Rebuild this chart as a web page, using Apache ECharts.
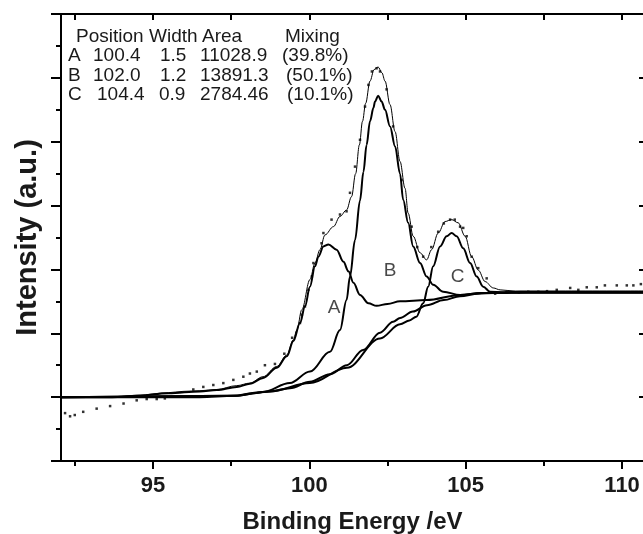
<!DOCTYPE html>
<html>
<head>
<meta charset="utf-8">
<script src="https://cdn.jsdelivr.net/npm/echarts@6/dist/echarts.min.js"></script>
<style>
html, body {margin: 0; padding: 0; background: #fff;}
#main {width: 643px; height: 534px;}
</style>
</head>
<body>
<div id="main"></div>
<script>
// x range and ticks (binding energy, eV)
var xMin = 92.06, xMax = 110.70;
var xMajor = [95, 100, 105, 110];
var xMinor = [92.5, 97.5, 102.5, 107.5];
var xAll = [92.5, 95, 97.5, 100, 102.5, 105, 107.5, 110];

// measured points (dots)
var measured = [[92.19,0.75],[92.35,0.70],[92.5,0.72],[92.77,0.77],[93.2,0.82],[93.63,0.86],[94.06,0.90],[94.48,0.95],
    [94.8,0.97],[95.12,0.97],[95.38,0.98],[96.29,1.12],[96.61,1.16],[96.93,1.19],[97.25,1.22],[97.57,1.27],[97.89,1.32],
    [98.1,1.37],[98.32,1.40],[98.58,1.50],[98.9,1.52],[99.2,1.68],[99.45,1.93],[99.7,2.16],[99.76,2.29],[99.86,2.42],
    [99.97,2.68],[100.08,2.89],[100.13,3.10],[100.39,3.41],[100.45,3.57],[100.71,3.78],[100.98,3.86],[101.19,3.91],
    [101.3,4.20],[101.46,4.61],[101.62,5.03],[101.78,5.55],[101.89,5.89],[102.0,6.10],[102.15,6.15],[102.26,6.10],
    [102.47,5.82],[102.68,5.24],[102.95,4.40],[103.27,3.67],[103.45,3.35],[103.64,3.20],[103.9,3.35],[104.12,3.59],
    [104.3,3.72],[104.5,3.78],[104.65,3.78],[104.82,3.67],[104.92,3.65],[105.03,3.52],[105.19,3.20],[105.4,3.02],
    [105.67,2.86],[105.94,2.62],[106.3,2.64],[106.7,2.64],[107.0,2.65],[107.32,2.65],[107.6,2.66],[107.91,2.68],
    [108.34,2.71],[108.6,2.68],[108.87,2.72],[109.19,2.72],[109.45,2.75],[109.83,2.75],[110.15,2.75],[110.36,2.75],[110.6,2.77]];

// fitted envelope
var envelope = [[92.06,1.00],[93.7,1.00],[94.5,1.03],[95.5,1.07],[95.96,1.09],[96.5,1.10],[97.04,1.12],[97.68,1.18],
    [98.1,1.22],[98.52,1.32],[98.96,1.48],[99.28,1.66],[99.49,1.90],[99.6,2.05],[99.76,2.37],[100.02,2.84],[100.18,3.10],
    [100.34,3.31],[100.5,3.54],[100.77,3.67],[100.98,3.83],[101.19,3.93],[101.35,4.14],[101.48,4.50],[101.6,4.95],
    [101.7,5.32],[101.8,5.60],[101.94,5.95],[102.07,6.13],[102.2,6.17],[102.32,6.08],[102.42,5.95],[102.58,5.58],
    [102.74,5.16],[102.9,4.69],[103.06,4.27],[103.16,3.88],[103.32,3.52],[103.54,3.26],[103.75,3.15],[103.91,3.31],
    [104.12,3.57],[104.34,3.75],[104.55,3.78],[104.76,3.73],[104.98,3.52],[105.19,3.20],[105.4,2.99],[105.62,2.81],
    [105.88,2.71],[106.1,2.68],[106.6,2.66],[108,2.66],[110.7,2.66]];

// peak A + background
var peakA = [[92.06,1.00],[93.7,1.00],[94.5,1.02],[95.5,1.06],[96.5,1.09],[97.04,1.11],[97.68,1.16],[98.1,1.21],
    [98.52,1.30],[98.96,1.46],[99.28,1.64],[99.49,1.88],[99.7,2.16],[99.86,2.42],[100.02,2.73],[100.18,3.05],
    [100.29,3.20],[100.45,3.36],[100.61,3.39],[100.87,3.31],[101.09,3.12],[101.25,2.97],[101.41,2.79],[101.62,2.60],
    [101.89,2.47],[102.15,2.43],[102.5,2.46],[102.9,2.50],[103.75,2.52],[104.82,2.60],[105.5,2.63],[106.74,2.65],[110.7,2.65]];

// peak B + background
var peakB = [[92.06,1.00],[97.6,1.02],[98.5,1.08],[99.38,1.22],[100.02,1.40],[100.66,1.71],[100.98,2.05],[101.19,2.52],
    [101.3,2.89],[101.46,3.46],[101.62,4.08],[101.73,4.53],[101.83,4.95],[101.94,5.32],[102.05,5.53],[102.1,5.63],
    [102.2,5.72],[102.31,5.63],[102.42,5.50],[102.58,5.24],[102.74,4.93],[102.9,4.50],[103.0,4.09],[103.16,3.73],
    [103.32,3.36],[103.54,3.10],[103.75,2.89],[103.96,2.76],[104.28,2.65],[104.82,2.60],[105.5,2.63],[106.5,2.64],[110.7,2.64]];

// peak C + background
var peakC = [[92.06,1.00],[97.6,1.02],[98.74,1.09],[100.02,1.22],[101.2,1.46],[102.26,1.92],[102.9,2.14],[103.2,2.20],
    [103.42,2.26],[103.64,2.47],[103.8,2.73],[103.96,3.05],[104.18,3.36],[104.39,3.52],[104.55,3.57],[104.71,3.52],
    [104.92,3.33],[105.14,3.10],[105.35,2.89],[105.56,2.73],[105.78,2.65],[106.2,2.64],[110.7,2.64]];

// background
var background = [[92.06,1.00],[95.0,1.00],[96.5,1.00],[97.6,1.02],[98.2,1.06],[98.74,1.09],[99.38,1.14],[100.02,1.24],
    [100.66,1.36],[101.2,1.50],[101.72,1.74],[102.26,2.01],[102.68,2.18],[102.9,2.24],[103.31,2.34],[103.76,2.44],
    [104.3,2.52],[104.82,2.58],[105.4,2.62],[105.9,2.63],[107,2.64],[108.5,2.64],[110.7,2.64]];

// peak letters and where they sit
var peakNames = ['A', 'B', 'C'];
var peakLabelAt = [[100.79, 2.40], [102.58, 2.98], [104.74, 2.88]];

// fit table
var tableHead = ['Position', 'Width', 'Area', 'Mixing'];
var tableRows = [
    ['A', '100.4', '1.5', '11028.9', '(39.8%)'],
    ['B', '102.0', '1.2', '13891.3', '(50.1%)'],
    ['C', '104.4', '0.9', '2784.46', '(10.1%)']
];

var FONT = '"Liberation Sans", Arial, sans-serif';
var INK = '#1a1a1a';

var chart = echarts.init(document.getElementById('main'));

var lineSeries = function (data, width) {
    return {
        type: 'line', data: data, symbol: 'none', showSymbol: false, silent: true,
        smooth: 0.35, smoothMonotone: 'x',
        lineStyle: {color: '#000', width: width}, z: 3
    };
};

// table as graphic text
var headX = [76, 149, 202, 285];
var colX = [[68, 93, 160, 200, 282], [68, 93, 160, 200, 286], [68, 97, 159, 200, 287]];
var rowY = [57.5, 77.5, 96];
var graphics = [];
tableHead.forEach(function (t, i) {
    graphics.push({type: 'text', left: headX[i], top: 38.3 - 11,
        style: {text: t, font: '19px ' + FONT, fill: INK}});
});
tableRows.forEach(function (row, r) {
    row.forEach(function (t, c) {
        graphics.push({type: 'text', left: colX[r][c], top: rowY[r] - 11,
            style: {text: t, font: '19px ' + FONT, fill: INK}});
    });
});

chart.setOption({
    animation: false,
    grid: {left: 61, top: 14, right: -1, bottom: 73, containLabel: false, outerBoundsMode: 'none'},
    xAxis: [
        {
            type: 'value', position: 'bottom', min: xMin, max: xMax,
            axisLine: {show: true, lineStyle: {color: '#000', width: 2}},
            axisTick: {show: true, length: 8, customValues: xMajor, lineStyle: {color: '#000', width: 2}},
            axisLabel: {customValues: xMajor, fontSize: 22, fontWeight: 'bold', fontFamily: FONT, color: INK, margin: 14},
            splitLine: {show: false},
            name: 'Binding Energy /eV', nameLocation: 'middle', nameGap: 49,
            nameTextStyle: {fontSize: 24, fontWeight: 'bold', fontFamily: FONT, color: INK}
        },
        {
            type: 'value', position: 'bottom', min: xMin, max: xMax,
            axisLine: {show: false},
            axisTick: {show: true, length: 5, customValues: xMinor, lineStyle: {color: '#000', width: 2}},
            axisLabel: {show: false}, splitLine: {show: false}
        },
        {
            type: 'value', position: 'top', min: xMin, max: xMax,
            axisLine: {show: true, lineStyle: {color: '#000', width: 2}},
            axisTick: {show: true, inside: true, length: 6, customValues: xAll, lineStyle: {color: '#000', width: 2}},
            axisLabel: {show: false}, splitLine: {show: false}
        }
    ],
    yAxis: [
        {
            type: 'value', position: 'left', min: 0, max: 7, interval: 1,
            axisLine: {show: true, lineStyle: {color: '#000', width: 2}},
            axisTick: {show: true, length: 10, lineStyle: {color: '#000', width: 2}},
            minorTick: {show: true, splitNumber: 2, length: 5, lineStyle: {color: '#000', width: 2}},
            axisLabel: {show: false}, splitLine: {show: false},
            name: 'Intensity (a.u.)', nameLocation: 'middle', nameGap: 19,
            nameTextStyle: {fontSize: 29, fontWeight: 'bold', fontFamily: FONT, color: INK}
        },
        {
            type: 'value', position: 'right', min: 0, max: 7, interval: 1,
            axisLine: {show: true, lineStyle: {color: '#000', width: 2}},
            axisTick: {show: true, inside: true, length: 5, lineStyle: {color: '#000', width: 2}},
            axisLabel: {show: false}, splitLine: {show: false}
        }
    ],
    graphic: graphics,
    series: [
        lineSeries(background, 2),
        lineSeries(peakC, 2),
        lineSeries(peakB, 2),
        lineSeries(peakA, 2),
        lineSeries(envelope, 1),
        {
            type: 'scatter', data: measured, symbol: 'rect', symbolSize: 2.5,
            itemStyle: {color: '#000'}, silent: true, z: 4
        },
        {
            type: 'scatter', symbolSize: 0, silent: true, z: 5,
            data: peakNames.map(function (n, i) {
                return {name: n, value: peakLabelAt[i]};
            }),
            label: {show: true, position: 'inside', formatter: '{b}', fontSize: 19, fontFamily: FONT, color: INK}
        }
    ]
});
</script>
</body>
</html>
